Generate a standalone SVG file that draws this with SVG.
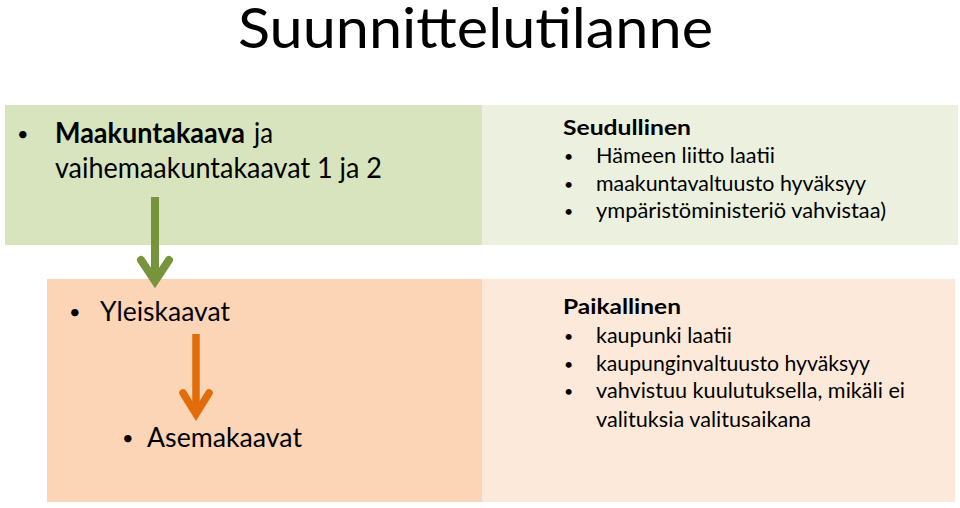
<svg xmlns="http://www.w3.org/2000/svg" width="960" height="508" viewBox="0 0 960 508">
<style>
text{font-family:Lato,"Open Sans","Liberation Sans",sans-serif;fill:#000}
.t{font-size:57px}
.l{font-size:28px}
.m{font-size:26px}
.s{font-size:21.5px}
.bl{font-size:20px}
.bs{font-size:16px}
.b{font-weight:bold}
.ga{stroke:#77933C;stroke-width:8;fill:none}
.oa{stroke:#E36C0A;stroke-width:7.5;fill:none}
</style>
<rect width="960" height="508" fill="#fff"/>
<text class="t" x="238" y="48" textLength="475" lengthAdjust="spacingAndGlyphs">Suunnittelutilanne</text>
<g id="maakunta">
<rect x="5" y="105" width="477" height="140" fill="#D7E4BD"/>
<text class="bl" x="17" y="141">•</text>
<text class="l b" x="55" y="143" textLength="190" lengthAdjust="spacingAndGlyphs">Maakuntakaava</text>
<text class="l" x="254" y="143" textLength="19" lengthAdjust="spacingAndGlyphs">ja</text>
<text class="l" x="55" y="178" textLength="327" lengthAdjust="spacingAndGlyphs">vaihemaakuntakaavat 1 ja 2</text>
</g>
<g id="seudullinen">
<rect x="482" y="105" width="476" height="140" fill="#EBF1DE"/>
<text class="s b" x="563" y="135" textLength="128" lengthAdjust="spacingAndGlyphs">Seudullinen</text>
<text class="bs" x="564" y="162">•</text>
<text class="s" x="596" y="163" textLength="179" lengthAdjust="spacingAndGlyphs">Hämeen liitto laatii</text>
<text class="bs" x="564" y="190">•</text>
<text class="s" x="596" y="191" textLength="270" lengthAdjust="spacingAndGlyphs">maakuntavaltuusto hyväksyy</text>
<text class="bs" x="564" y="217">•</text>
<text class="s" x="596" y="218" textLength="290" lengthAdjust="spacingAndGlyphs">ympäristöministeriö vahvistaa)</text>
</g>
<g id="yleiskaavat">
<rect x="47" y="279" width="435" height="223" fill="#FBD5B5"/>
<text class="bl" x="69" y="319">•</text>
<text class="m" x="100" y="321" textLength="130" lengthAdjust="spacingAndGlyphs">Yleiskaavat</text>
<text class="bl" x="122" y="445">•</text>
<text class="m" x="147" y="447" textLength="155" lengthAdjust="spacingAndGlyphs">Asemakaavat</text>
</g>
<g id="paikallinen">
<rect x="482" y="279" width="473" height="223" fill="#FDE9D9"/>
<text class="s b" x="563" y="314" textLength="118" lengthAdjust="spacingAndGlyphs">Paikallinen</text>
<text class="bs" x="564" y="342">•</text>
<text class="s" x="596" y="343" textLength="136" lengthAdjust="spacingAndGlyphs">kaupunki laatii</text>
<text class="bs" x="564" y="370">•</text>
<text class="s" x="596" y="371" textLength="274" lengthAdjust="spacingAndGlyphs">kaupunginvaltuusto hyväksyy</text>
<text class="bs" x="564" y="397">•</text>
<text class="s" x="596" y="398" textLength="309" lengthAdjust="spacingAndGlyphs">vahvistuu kuulutuksella, mikäli ei</text>
<text class="s" x="596" y="427" textLength="215" lengthAdjust="spacingAndGlyphs">valituksia valitusaikana</text>
</g>
<g id="connectors">
<line class="ga" x1="155" y1="197" x2="155" y2="280"/>
<polyline class="ga" points="141,260 155,281 169,260" stroke-linecap="round" stroke-linejoin="miter"/>
<line class="oa" x1="196" y1="334" x2="196" y2="414"/>
<polyline class="oa" points="183,393 196,414 209,393" stroke-linecap="round" stroke-linejoin="miter"/>
</g>
</svg>
